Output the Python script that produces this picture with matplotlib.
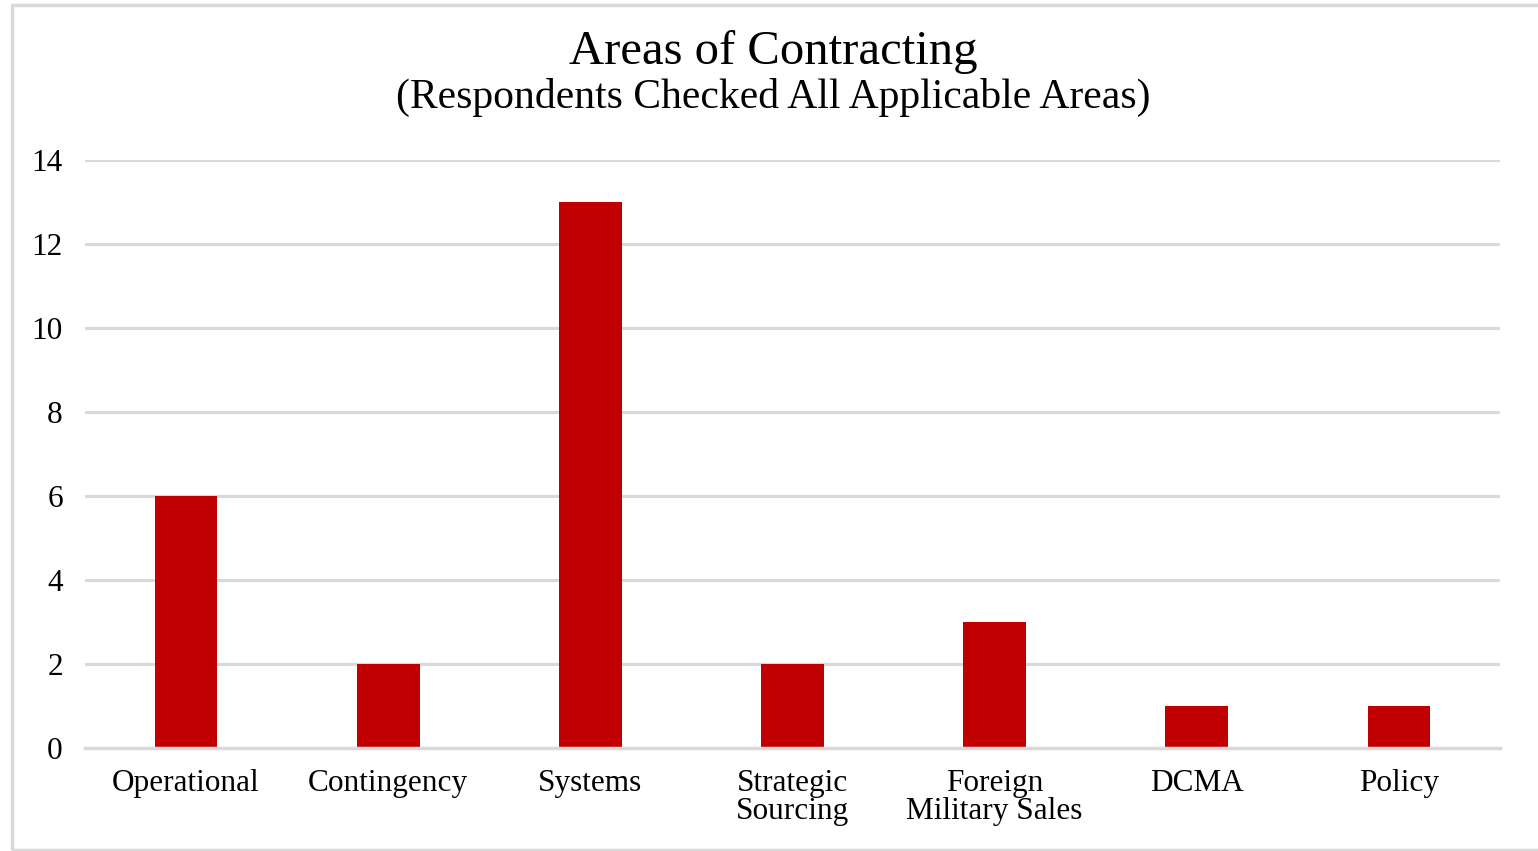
import matplotlib; matplotlib.use("Agg")
import matplotlib.pyplot as plt
from matplotlib.patches import Rectangle

categories = ["Operational", "Contingency", "Systems", "Strategic\nSourcing",
              "Foreign\nMilitary Sales", "DCMA", "Policy"]
counts = [6, 2, 13, 2, 3, 1, 1]
yticks = [0, 2, 4, 6, 8, 10, 12, 14]

plt.rcParams["font.family"] = ["Liberation Serif", "DejaVu Serif"]

fig = plt.figure(figsize=(15.38, 8.51), dpi=100)
ax = fig.add_axes([85/1538, 103/851, 1415/1538, 588/851])

ax.bar(range(len(categories)), counts, width=0.31, color="#C00000", zorder=3)
ax.set_xlim(-0.5, len(categories) - 0.5)
ax.set_ylim(0, 14)
ax.set_yticks(yticks)
ax.set_xticks(range(len(categories)))
ax.set_xticklabels(categories, fontsize=22.5, linespacing=0.98, va="top")
ax.tick_params(axis="y", labelsize=22.5, length=0, pad=16)
ax.tick_params(axis="x", length=0, pad=15)
ax.grid(axis="y", color="#D9D9D9", linewidth=2.2, zorder=0)
for s in ["top", "right", "left"]:
    ax.spines[s].set_visible(False)
ax.spines["bottom"].set_color("#D9D9D9")
ax.spines["bottom"].set_linewidth(2.5)
ax.spines["bottom"].set_zorder(4)

fig.text(0.503, 0.939, "Areas of Contracting", ha="center", va="center", fontsize=35)
fig.text(0.503, 0.886, "(Respondents Checked All Applicable Areas)", ha="center", va="center", fontsize=30)

fig.patches.append(Rectangle((12/1538, 1/851), 1.1, 845/851, transform=fig.transFigure,
                             fill=False, edgecolor="#D9D9D9", linewidth=2.5))

fig.savefig("out.png", dpi=100)
